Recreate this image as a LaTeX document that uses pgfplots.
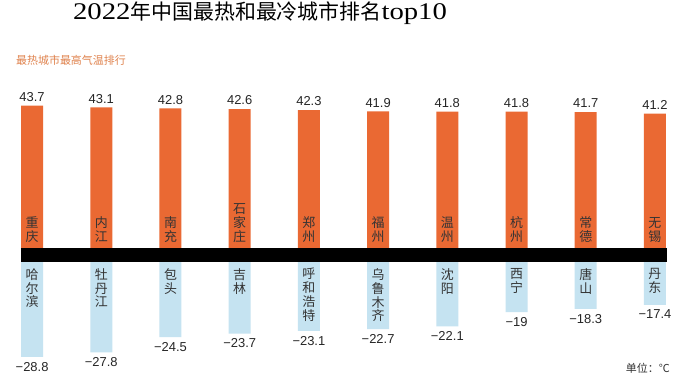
\documentclass[border=0pt]{standalone}
\usepackage{pgfplots}
\pgfplotsset{compat=1.18}
\usepackage{fontspec}
\setmainfont{Liberation Sans}
\newfontfamily\cjk{Noto Sans CJK SC}
\newfontfamily\titlelatin[FakeStretch=1.2]{Liberation Serif}
\definecolor{hot}{HTML}{EA6933}
\definecolor{cold}{HTML}{C5E3F1}
\definecolor{sub}{HTML}{E0834E}
\begin{document}
\begin{tikzpicture}[x=1bp,y=1bp]
\useasboundingbox (0,0) rectangle (688,-379);
\fill[white] (0,0) rectangle (688,-379);
\node[anchor=center, inner sep=0] at (260,-13) {{\titlelatin\fontsize{24}{26}\selectfont 2022}{\cjk\fontsize{21}{26}\selectfont 年中国最热和最冷城市排名}{\titlelatin\fontsize{24}{26}\selectfont top10}};
\node[anchor=west, text=sub, inner sep=0] at (16,-60) {\cjk\fontsize{11}{13}\selectfont 最热城市最高气温排行};
% hot cities
\begin{axis}[at={(21bp,-248bp)}, anchor=south west, scale only axis,
  width=645bp, height=156.5bp, xmin=-0.16, xmax=9.16, ymin=0, ymax=48,
  hide axis, clip=false, ybar, bar width=22bp]
\addplot[fill=hot, draw=none, nodes near coords, point meta=explicit symbolic,
  nodes near coords style={font=\fontsize{13}{15}\selectfont, text=black!85, anchor=south, inner sep=0pt, yshift=4bp}]
  coordinates {(0,43.7)[43.7] (1,43.1)[43.1] (2,42.8)[42.8] (3,42.6)[42.6] (4,42.3)[42.3]
               (5,41.9)[41.9] (6,41.8)[41.8] (7,41.8)[41.8] (8,41.7)[41.7] (9,41.2)[41.2]};
\tikzset{hn/.style={anchor=south, align=center, inner sep=0pt, yshift=5bp, text=black!80,
  font=\cjk\fontsize{13}{14}\selectfont}}
\node[hn] at (axis cs:0,0) {重\\庆};
\node[hn] at (axis cs:1,0) {内\\江};
\node[hn] at (axis cs:2,0) {南\\充};
\node[hn] at (axis cs:3,0) {石\\家\\庄};
\node[hn] at (axis cs:4,0) {郑\\州};
\node[hn] at (axis cs:5,0) {福\\州};
\node[hn] at (axis cs:6,0) {温\\州};
\node[hn] at (axis cs:7,0) {杭\\州};
\node[hn] at (axis cs:8,0) {常\\德};
\node[hn] at (axis cs:9,0) {无\\锡};
\end{axis}
% cold cities
\begin{axis}[at={(21bp,-262bp)}, anchor=north west, scale only axis,
  width=645bp, height=117bp, xmin=-0.16, xmax=9.16, ymin=-33.66, ymax=-8,
  hide axis, clip=true, ybar, bar width=22bp]
\addplot[fill=cold, draw=none, nodes near coords, point meta=explicit symbolic,
  nodes near coords style={font=\fontsize{13}{15}\selectfont, text=black!85, anchor=north, inner sep=0pt, yshift=-5bp}]
  coordinates {(0,-28.8)[−28.8] (1,-27.8)[−27.8] (2,-24.5)[−24.5] (3,-23.7)[−23.7] (4,-23.1)[−23.1]
               (5,-22.7)[−22.7] (6,-22.1)[−22.1] (7,-19)[−19] (8,-18.3)[−18.3] (9,-17.4)[−17.4]};
\tikzset{cn/.style={anchor=north, align=center, inner sep=0pt, yshift=-6bp, text=black!80,
  font=\cjk\fontsize{13}{14}\selectfont}}
\node[cn] at (axis cs:0,-8) {哈\\尔\\滨};
\node[cn] at (axis cs:1,-8) {牡\\丹\\江};
\node[cn] at (axis cs:2,-8) {包\\头};
\node[cn] at (axis cs:3,-8) {吉\\林};
\node[cn] at (axis cs:4,-8) {呼\\和\\浩\\特};
\node[cn] at (axis cs:5,-8) {乌\\鲁\\木\\齐};
\node[cn] at (axis cs:6,-8) {沈\\阳};
\node[cn] at (axis cs:7,-8) {西\\宁};
\node[cn] at (axis cs:8,-8) {唐\\山};
\node[cn] at (axis cs:9,-8) {丹\\东};
\end{axis}
\fill[black] (21,-248) rectangle (667,-262);
\node[anchor=east, inner sep=0, text=black!80] at (670,-368) {\cjk\fontsize{11}{13}\selectfont 单位：℃};
\end{tikzpicture}
\end{document}
